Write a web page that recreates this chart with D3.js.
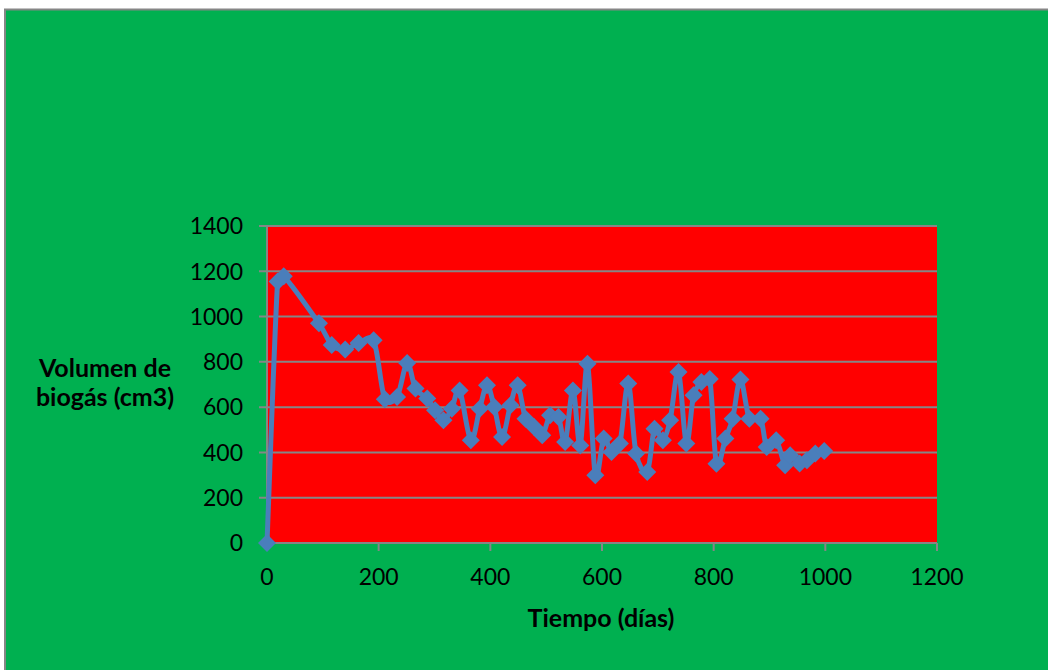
<!DOCTYPE html>
<html>
<head>
<meta charset="utf-8">
<script src="https://cdn.jsdelivr.net/npm/d3@7"></script>
<style>
  html, body { margin: 0; padding: 0; background: #ffffff; }
  svg { display: block; }
</style>
</head>
<body>
<svg id="chart" width="1048" height="670"></svg>
<script>
const days = [0, 19, 30, 93, 116, 140, 164, 191, 211, 233, 251, 266, 287, 301, 316, 331, 345, 365, 381, 394, 407, 421, 436, 449, 463, 478, 493, 507, 522, 534, 548, 561, 574, 588, 603, 617, 632, 647, 661, 681, 694, 709, 722, 737, 751, 764, 778, 793, 805, 821, 834, 848, 864, 884, 895, 912, 928, 937, 954, 967, 982, 998];
const volumen = [0, 1155, 1178, 970, 875, 855, 883, 895, 635, 645, 795, 682, 638, 586, 542, 593, 674, 454, 593, 697, 601, 468, 608, 697, 549, 513, 476, 564, 557, 446, 674, 431, 792, 299, 461, 402, 439, 704, 395, 314, 505, 454, 542, 755, 439, 652, 711, 724, 350, 461, 549, 722, 549, 549, 424, 454, 343, 387, 351, 365, 395, 406];
const xTicks = [0, 200, 400, 600, 800, 1000, 1200];
const yTicks = [0, 200, 400, 600, 800, 1000, 1200, 1400];
const xTitle = "Tiempo (días)";
const yTitleLines = ["Volumen de", "biogás (cm3)"];

const svg = d3.select("#chart");
const font = "Lato, 'Open Sans', sans-serif";

// Spreadsheet-style smoothed line: cubic Bezier, tangent arms (P[i+1]-P[i-1])/6,
// each arm capped at half of its own segment length.
function SmoothCurve(context) { this._context = context; }
SmoothCurve.prototype = {
  areaStart() { this._line = 0; },
  areaEnd() { this._line = NaN; },
  lineStart() { this._p = []; },
  point(x, y) { this._p.push([+x, +y]); },
  lineEnd() {
    const p = this._p, c = this._context, n = p.length;
    if (!n) return;
    c.moveTo(p[0][0], p[0][1]);
    const dist = (a, b) => Math.hypot(a[0] - b[0], a[1] - b[1]);
    for (let i = 0; i < n - 1; i++) {
      const p0 = p[Math.max(0, i - 1)], p1 = p[i], p2 = p[i + 1], p3 = p[Math.min(n - 1, i + 2)];
      const d12 = dist(p1, p2), d02 = dist(p0, p2), d13 = dist(p1, p3);
      let f0 = 1 / 6, f1 = 1 / 6;
      if (d02 / 6 > d12 / 2 && d02 > 0) f0 = d12 / d02 / 2;
      if (d13 / 6 > d12 / 2 && d13 > 0) f1 = d12 / d13 / 2;
      const b1 = [p1[0] + (p2[0] - p0[0]) * f0, p1[1] + (p2[1] - p0[1]) * f0];
      const b2 = [p2[0] - (p3[0] - p1[0]) * f1, p2[1] - (p3[1] - p1[1]) * f1];
      c.bezierCurveTo(b1[0], b1[1], b2[0], b2[1], p2[0], p2[1]);
    }
  }
};
const smoothCurve = ctx => new SmoothCurve(ctx);

// outer chart area
svg.append("rect").attr("x", 5).attr("y", 9.5).attr("width", 1050).attr("height", 670)
  .attr("fill", "#00B050").attr("stroke", "#868686").attr("stroke-width", 2);

const x = d3.scaleLinear().domain([0, 1200]).range([267, 937]);
const y = d3.scaleLinear().domain([0, 1400]).range([543, 226]);

// plot area
svg.append("rect").attr("x", x(0)).attr("y", y(1400))
  .attr("width", x(1200) - x(0)).attr("height", y(0) - y(1400)).attr("fill", "#FF0000");

// gridlines
svg.append("g").selectAll("line").data(yTicks).join("line")
  .attr("x1", x(0) - 8).attr("x2", x(1200))
  .attr("y1", d => y(d)).attr("y2", d => y(d))
  .attr("stroke", "#868686").attr("stroke-width", 2);

// y axis line
svg.append("line").attr("x1", x(0)).attr("x2", x(0)).attr("y1", y(1400)).attr("y2", y(0))
  .attr("stroke", "#868686").attr("stroke-width", 2);

// x tick marks
svg.append("g").selectAll("line").data(xTicks).join("line")
  .attr("x1", d => x(d)).attr("x2", d => x(d))
  .attr("y1", y(0)).attr("y2", y(0) + 8)
  .attr("stroke", "#868686").attr("stroke-width", 2);

// y tick labels
svg.append("g").selectAll("text").data(yTicks).join("text")
  .attr("x", 243).attr("y", d => y(d)).attr("dy", "0.36em")
  .attr("text-anchor", "end").attr("font-family", font).attr("font-size", 23)
  .attr("fill", "#000").text(d => d);

// x tick labels
svg.append("g").selectAll("text").data(xTicks).join("text")
  .attr("x", d => x(d)).attr("y", 585)
  .attr("text-anchor", "middle").attr("font-family", font).attr("font-size", 23)
  .attr("fill", "#000").text(d => d);

// titles
svg.append("text").attr("x", 601).attr("y", 627).attr("text-anchor", "middle")
  .attr("font-family", font).attr("font-size", 25).attr("font-weight", "bold")
  .attr("fill", "#000").text(xTitle);

svg.append("g").selectAll("text").data(yTitleLines).join("text")
  .attr("x", 105).attr("y", (d, i) => 377 + i * 29).attr("text-anchor", "middle")
  .attr("font-family", font).attr("font-size", 25).attr("font-weight", "bold")
  .attr("fill", "#000").text(d => d);

// series
const pts = days.map((d, i) => [d, volumen[i]]);
const line = d3.line().x(d => x(d[0])).y(d => y(d[1])).curve(smoothCurve);
svg.append("path").datum(pts).attr("d", line).attr("fill", "none")
  .attr("stroke", "#4A7EBB").attr("stroke-width", 5).attr("stroke-linejoin", "round");

svg.append("g").selectAll("path").data(pts).join("path")
  .attr("transform", d => `translate(${x(d[0])},${y(d[1])})`)
  .attr("d", "M0,-9L9,0L0,9L-9,0Z")
  .attr("fill", "#4A7EBB");
</script>
</body>
</html>
